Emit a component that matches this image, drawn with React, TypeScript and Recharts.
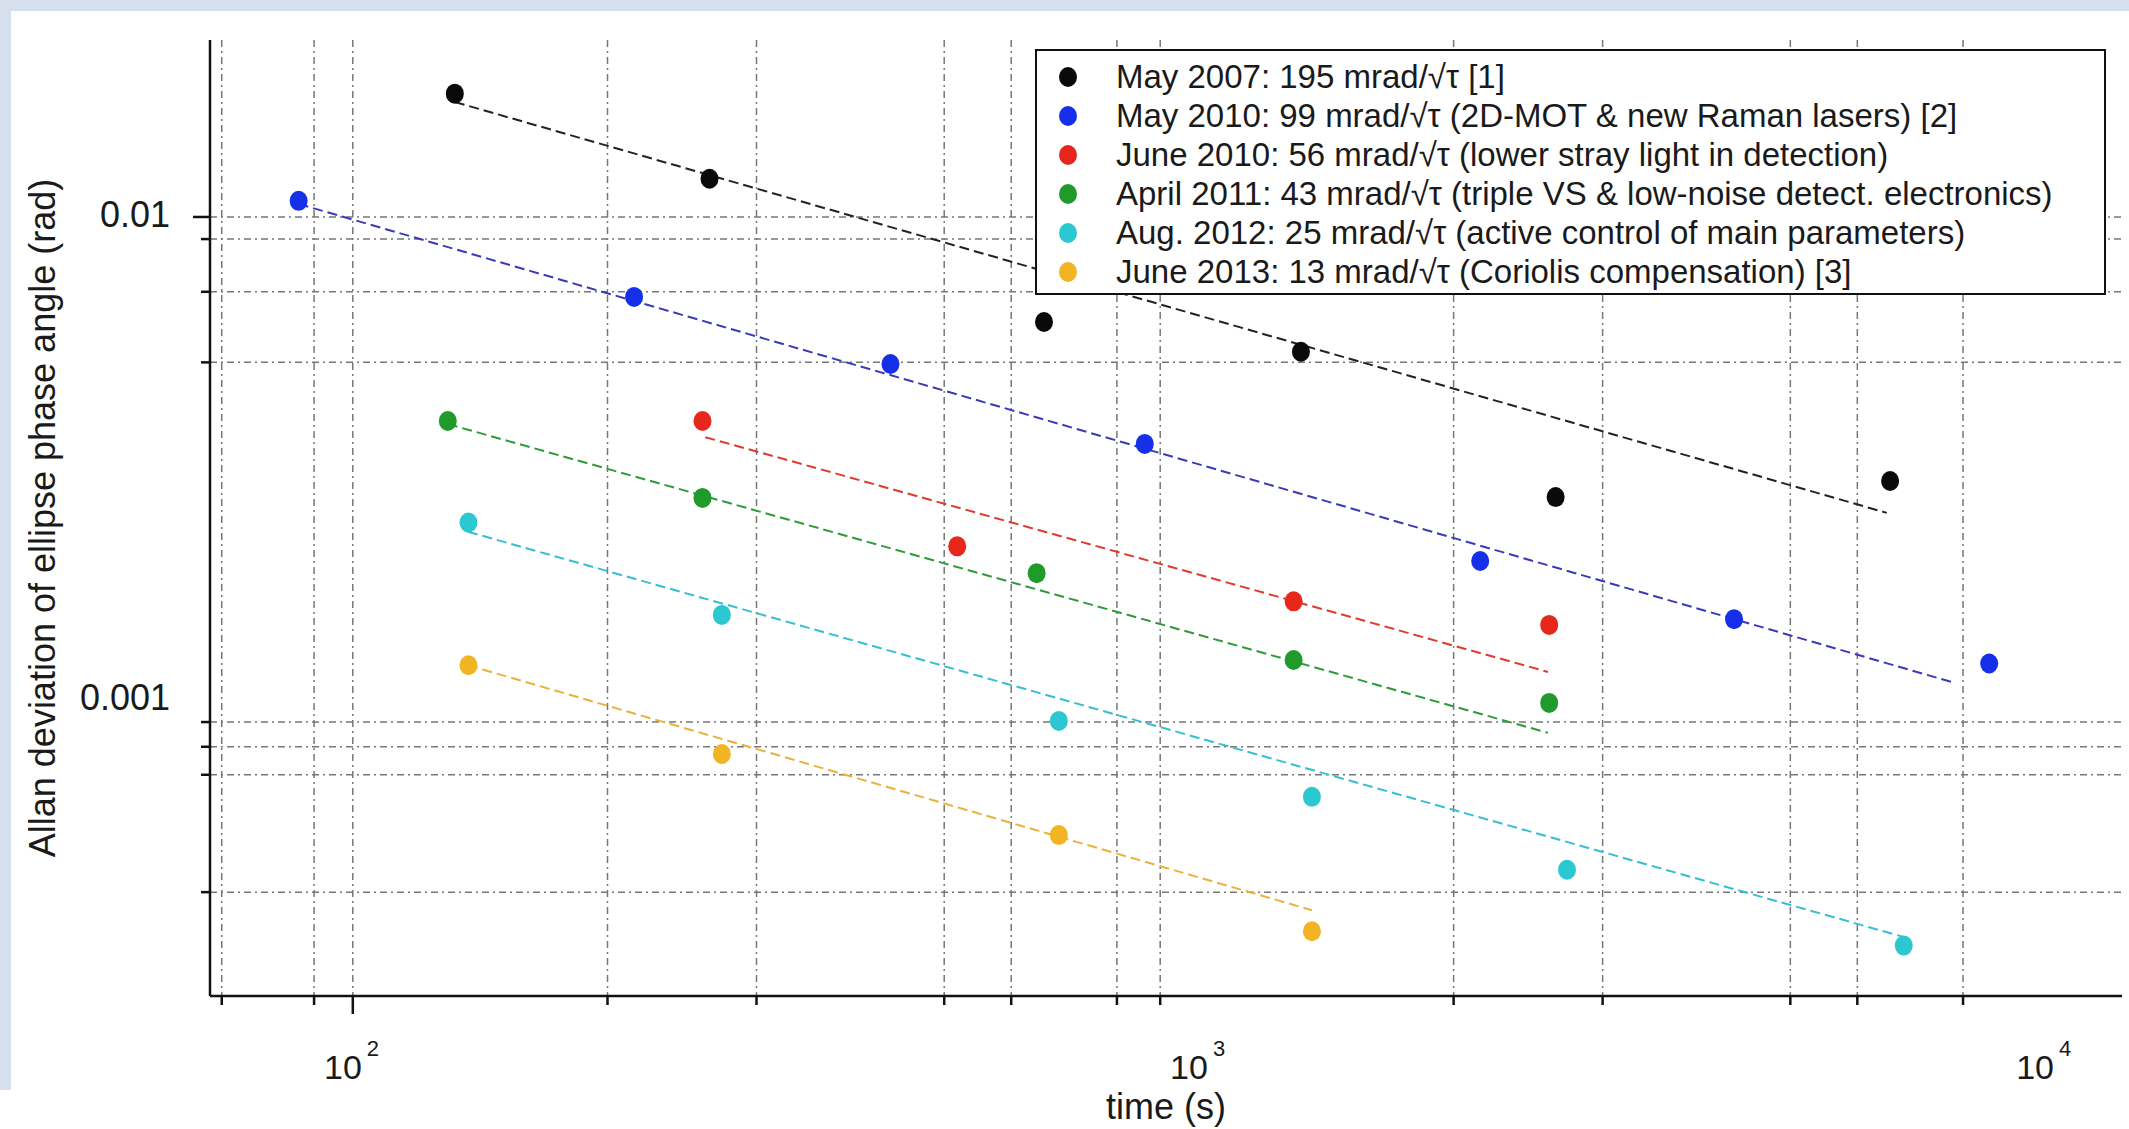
import React from 'react';
import { ScatterChart, Scatter, XAxis, YAxis, CartesianGrid, Legend } from 'recharts';

const FONT = '"Liberation Sans", Arial, sans-serif';

// measured Allan deviation points, t in s, v in rad
const may2007 = [
  { t: 132, v: 0.018 }, { t: 264, v: 0.012 }, { t: 656, v: 0.00606 },
  { t: 1320, v: 0.00526 }, { t: 2640, v: 0.00263 }, { t: 6560, v: 0.00284 },
];
const may2010 = [
  { t: 86.3, v: 0.0108 }, { t: 215, v: 0.00683 }, { t: 432, v: 0.00496 }, { t: 863, v: 0.00339 },
  { t: 2150, v: 0.00194 }, { t: 4290, v: 0.00147 }, { t: 8590, v: 0.00119 },
];
const june2010 = [
  { t: 259, v: 0.00378 }, { t: 518, v: 0.00208 }, { t: 1294, v: 0.0016 }, { t: 2594, v: 0.00143 },
];
const april2011 = [
  { t: 129.5, v: 0.00378 }, { t: 259, v: 0.00262 }, { t: 643, v: 0.00183 },
  { t: 1294, v: 0.00121 }, { t: 2594, v: 0.000986 },
];
const aug2012 = [
  { t: 137, v: 0.00233 }, { t: 273, v: 0.0015 }, { t: 683, v: 0.000905 },
  { t: 1360, v: 0.00063 }, { t: 2723, v: 0.000445 }, { t: 6808, v: 0.00031 },
];
const june2013 = [
  { t: 137, v: 0.00118 }, { t: 273, v: 0.000773 }, { t: 683, v: 0.000525 }, { t: 1360, v: 0.000332 },
];

// fitted lines, start and end
const fit2007 = [{ t: 132, v: 0.0173 }, { t: 6500, v: 0.00244 }];
const fit2010a = [{ t: 86.3, v: 0.01064 }, { t: 7830, v: 0.001084 }];
const fit2010b = [{ t: 261, v: 0.0035 }, { t: 2585, v: 0.001143 }];
const fit2011 = [{ t: 129.5, v: 0.003726 }, { t: 2585, v: 0.000855 }];
const fit2012 = [{ t: 136.8, v: 0.00223 }, { t: 6808, v: 0.000323 }];
const fit2013 = [{ t: 136.8, v: 0.00118 }, { t: 1360, v: 0.000367 }];

const NAMES = [
  'May 2007: 195 mrad/√τ [1]',
  'May 2010: 99 mrad/√τ (2D-MOT & new Raman lasers) [2]',
  'June 2010: 56 mrad/√τ (lower stray light in detection)',
  'April 2011: 43 mrad/√τ (triple VS & low-noise detect. electronics)',
  'Aug. 2012: 25 mrad/√τ (active control of main parameters)',
  'June 2013: 13 mrad/√τ (Coriolis compensation) [3]',
];
const POINTS = [may2007, may2010, june2010, april2011, aug2012, june2013];
const FITS = [fit2007, fit2010a, fit2010b, fit2011, fit2012, fit2013];
const COLORS = ['#0a0a0a', '#1530e8', '#e8271c', '#219a2c', '#2cc8d2', '#f0b424'];
const LINE_COLORS = ['#222222', '#3a3ab8', '#e0392e', '#2f9a3a', '#35bfcf', '#e9b23a'];

const X_GRID = [70, 90, 100, 200, 300, 500, 600, 800, 900, 2000, 3000, 5000, 6000, 8000];
const X_LABELS = [100, 1000, 10000];
const X_EXP = ['2', '3', '4'];
const Y_GRID = [0.0004, 0.0007, 0.0008, 0.0009, 0.005, 0.007, 0.009, 0.01];
const Y_LABELS = [0.001, 0.01];
const Y_LABEL_TEXT = ['0.001', '0.01'];

const X_TICKS = [...X_GRID, 1000, 10000].sort((a, b) => a - b);
const Y_TICKS = [...Y_GRID, 0.001].sort((a, b) => a - b);

function XTick({ x, y, payload }: any) {
  const v = payload.value;
  const i = X_LABELS.indexOf(v);
  return (
    <g>
      {X_GRID.includes(v) && (
        <line x1={x} x2={x} y1={y} y2={y + (v === 100 ? 18 : 9)} stroke="#111" strokeWidth={2.5} />
      )}
      {i >= 0 && (
        <text fontFamily={FONT} fill="#1a1a1a">
          <tspan x={x + 9} y={y + 83} textAnchor="end" fontSize={34}>10</tspan>
          <tspan x={x + 14} y={y + 60} textAnchor="start" fontSize={22}>{X_EXP[i]}</tspan>
        </text>
      )}
    </g>
  );
}

function YTick({ x, y, payload }: any) {
  const v = payload.value;
  const i = Y_LABELS.indexOf(v);
  return (
    <g>
      {Y_GRID.includes(v) && (
        <line x1={x - (v === 0.01 ? 17 : 9)} x2={x} y1={y} y2={y} stroke="#111" strokeWidth={2.5} />
      )}
      {i >= 0 && (
        <text x={x - 40} y={y - 2} textAnchor="end" dominantBaseline="central" fontSize={36} fontFamily={FONT} fill="#1a1a1a">
          {Y_LABEL_TEXT[i]}
        </text>
      )}
    </g>
  );
}

function LegendBox() {
  return (
    <div
      style={{
        boxSizing: 'border-box', width: 1071, height: 246, border: '2.5px solid #111',
        background: '#fff', padding: '6px 0 0 22px', fontFamily: FONT,
      }}
    >
      {NAMES.map((name, i) => (
        <div key={name} style={{ display: 'flex', alignItems: 'center', height: 39 }}>
          <span style={{ width: 18, height: 20, borderRadius: '50%', background: COLORS[i], marginRight: 39, flex: 'none' }} />
          <span style={{ fontSize: 33, color: '#1a1a1a', whiteSpace: 'nowrap' }}>{name}</span>
        </div>
      ))}
    </div>
  );
}

const dot = (color: string) => (p: any) => <ellipse cx={p.cx} cy={p.cy} rx={9} ry={10} fill={color} />;
const noDot = () => <g />;

export default function App() {
  return (
    <div style={{ position: 'absolute', left: 0, top: 0, width: 2129, height: 1129, background: '#fff', overflow: 'hidden' }}>
      <div style={{ position: 'absolute', left: 0, top: 0, width: 2129, height: 11, background: '#d5dfee' }} />
      <div style={{ position: 'absolute', left: 0, top: 0, width: 11, height: 1090, background: '#d5dfee' }} />
      <ScatterChart width={2129} height={1129} margin={{ top: 40, right: 7, left: 0, bottom: 0 }}>
        <CartesianGrid
          horizontalValues={Y_GRID}
          verticalValues={X_GRID}
          stroke="#777"
          strokeWidth={1.5}
          strokeDasharray="7 4 2 4"
        />
        <XAxis
          type="number"
          dataKey="t"
          scale="log"
          domain={[67.8, 12330]}
          allowDataOverflow
          ticks={X_TICKS}
          interval={0}
          tickSize={0}
          tickMargin={0}
          tickLine={false}
          tick={<XTick />}
          height={133}
          axisLine={{ stroke: '#111', strokeWidth: 2.5 }}
          label={{
            content: (p: any) => (
              <text
                x={p.viewBox.x + p.viewBox.width / 2}
                y={p.viewBox.y + 123}
                textAnchor="middle"
                fontSize={36}
                fontFamily={FONT}
                fill="#1a1a1a"
              >
                time (s)
              </text>
            ),
          }}
        />
        <YAxis
          type="number"
          dataKey="v"
          scale="log"
          domain={[0.0002438, 0.02325]}
          allowDataOverflow
          ticks={Y_TICKS}
          interval={0}
          tickSize={0}
          tickMargin={0}
          tickLine={false}
          tick={<YTick />}
          width={210}
          axisLine={{ stroke: '#111', strokeWidth: 2.5 }}
          label={{
            content: (p: any) => {
              const cx = p.viewBox.x + 42;
              const cy = p.viewBox.y + p.viewBox.height / 2;
              return (
                <text
                  x={cx}
                  y={cy}
                  transform={`rotate(-90 ${cx} ${cy})`}
                  textAnchor="middle"
                  dominantBaseline="central"
                  fontSize={36}
                  fontFamily={FONT}
                  fill="#1a1a1a"
                >
                  Allan deviation of ellipse phase angle (rad)
                </text>
              );
            },
          }}
        />
        {FITS.map((fit, i) => (
          <Scatter
            key={`fit-${i}`}
            data={fit}
            legendType="none"
            line={{ stroke: LINE_COLORS[i], strokeWidth: 2, strokeDasharray: '10 5' }}
            shape={noDot}
            isAnimationActive={false}
          />
        ))}
        {POINTS.map((pts, i) => (
          <Scatter
            key={NAMES[i]}
            name={NAMES[i]}
            data={pts}
            fill={COLORS[i]}
            shape={dot(COLORS[i])}
            isAnimationActive={false}
          />
        ))}
        <Legend
          layout="vertical"
          align="center"
          verticalAlign="middle"
          content={() => <LegendBox />}
          wrapperStyle={{ left: 1035, top: 49, width: 1071, height: 246 }}
        />
      </ScatterChart>
    </div>
  );
}
